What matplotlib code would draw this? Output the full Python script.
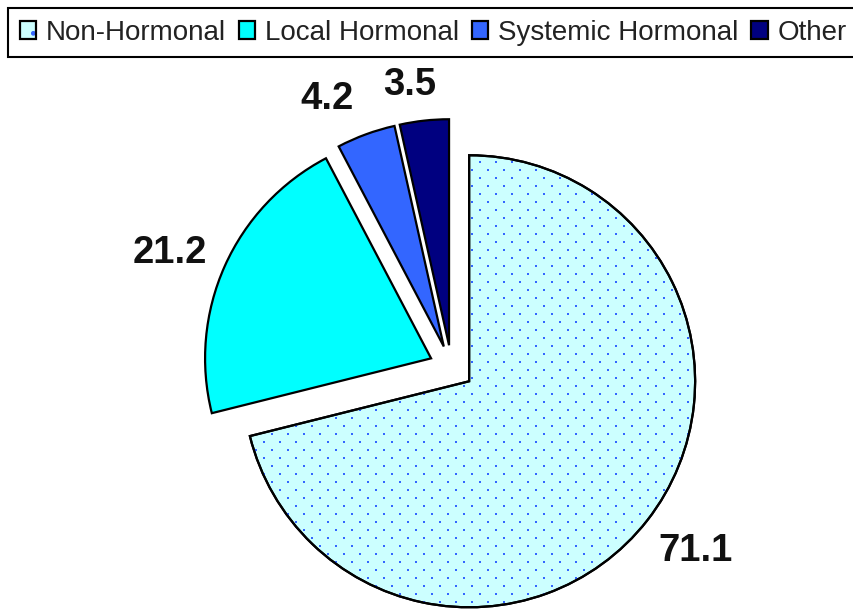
import matplotlib
matplotlib.use('Agg')
import matplotlib.pyplot as plt
import numpy as np
from matplotlib.patches import Wedge, Patch

plt.rcParams['font.family'] = ['Liberation Sans', 'DejaVu Sans']

# Data
categories = ['Non-Hormonal', 'Local Hormonal', 'Systemic Hormonal', 'Other']
values = [71.1, 21.2, 4.2, 3.5]
colors = ['#CCFFFF', '#00FFFF', '#3366FF', '#000080']

# small label nudges (pixels, x right / y down) to match the original placement
label_nudge = [(9, 0), (-10, 7), (-22, 11), (-9, 14)]

fig = plt.figure(figsize=(8.54, 6.1), dpi=100)
ax = fig.add_axes([0, 0, 1, 1])

# Pie in pixel coordinates (y measured from the bottom)
R = 226
wedges, texts = ax.pie(values, labels=[f'{v:.1f}' for v in values],
                       colors=colors, startangle=90, counterclock=False,
                       explode=[0.099 * R] * len(values), radius=R,
                       center=(451.5, 610 - 367.5), labeldistance=1.22,
                       wedgeprops=dict(edgecolor='black', linewidth=1.6),
                       textprops=dict(fontsize=27.5, fontweight='bold', color='#111111'),
                       frame=True)
ax.set_xlim(0, 854)
ax.set_ylim(0, 610)
ax.set_aspect('equal')
ax.axis('off')

for t, (dx, dy) in zip(texts, label_nudge):
    x, y = t.get_position()
    t.set_position((x + dx, y - dy))
    t.set_horizontalalignment('center')
    t.set_verticalalignment('center')

# dotted texture for the first slice (staggered grid), clipped to the wedge
w0 = wedges[0]
gx, gy = np.meshgrid(np.arange(0, 854, 16.0), np.arange(0, 610, 8.0))
gx[1::2] += 8
dots = ax.scatter(gx.ravel(), gy.ravel(), s=2.2, marker='s', color='#3366FF',
                  linewidths=0, zorder=w0.get_zorder() + 0.05)
dots.set_clip_path(w0)
ax.add_patch(Wedge(w0.center, w0.r, w0.theta1, w0.theta2,
                   facecolor='none', edgecolor='black', linewidth=1.6,
                   zorder=w0.get_zorder() + 0.1))

h0 = (Patch(facecolor=colors[0], edgecolor='#3366FF', hatch='.', linewidth=0),
      Patch(facecolor='none', edgecolor='black', linewidth=1.6))
handles = [h0] + [Patch(facecolor=c, edgecolor='black', linewidth=1.6) for c in colors[1:]]

leg = fig.legend(handles, categories, loc='upper left', bbox_to_anchor=(8 / 854, 1 - 8 / 610),
                 ncol=4, fontsize=20, frameon=True, fancybox=False, shadow=False,
                 handlelength=0.6, handleheight=0.6, handletextpad=0.35,
                 columnspacing=0.45, borderpad=0.42, borderaxespad=0)
leg.get_frame().set_edgecolor('black')
leg.get_frame().set_linewidth(1.5)
leg.get_frame().set_alpha(1)
for t in leg.get_texts():
    t.set_color('#222222')

fig.savefig('out.png', dpi=100)
